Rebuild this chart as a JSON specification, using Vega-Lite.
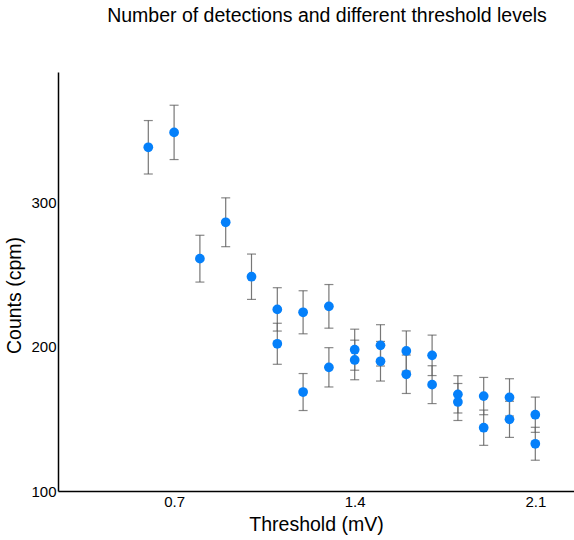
{
  "$schema": "https://vega.github.io/schema/vega-lite/v6.json",
  "autosize": "none",
  "width": 516,
  "height": 419,
  "padding": {"left": 58, "top": 72, "right": 0, "bottom": 49},
  "background": "white",
  "config": {
    "view": {"stroke": null},
    "font": "Liberation Sans"
  },
  "title": {
    "text": "Number of detections and different threshold levels",
    "fontSize": 19.5,
    "fontWeight": "normal",
    "color": "#000000",
    "font": "Liberation Sans",
    "anchor": "middle",
    "dx": 11,
    "offset": 46
  },
  "data": {
    "values": [
      {"threshold": 0.6, "counts": 337.9, "err": 18.5},
      {"threshold": 0.7, "counts": 348.2, "err": 18.8},
      {"threshold": 0.8, "counts": 260.8, "err": 16.2},
      {"threshold": 0.9, "counts": 286.0, "err": 16.9},
      {"threshold": 1.0, "counts": 248.3, "err": 15.7},
      {"threshold": 1.1, "counts": 225.7, "err": 15.0},
      {"threshold": 1.1, "counts": 201.9, "err": 14.2},
      {"threshold": 1.2, "counts": 223.7, "err": 14.9},
      {"threshold": 1.2, "counts": 168.5, "err": 12.8},
      {"threshold": 1.3, "counts": 227.8, "err": 15.1},
      {"threshold": 1.3, "counts": 185.6, "err": 13.6},
      {"threshold": 1.4, "counts": 197.8, "err": 14.2},
      {"threshold": 1.4, "counts": 190.7, "err": 13.7},
      {"threshold": 1.5, "counts": 200.8, "err": 14.3},
      {"threshold": 1.5, "counts": 189.8, "err": 13.7},
      {"threshold": 1.6, "counts": 196.9, "err": 13.9},
      {"threshold": 1.6, "counts": 180.8, "err": 13.3},
      {"threshold": 1.7, "counts": 193.9, "err": 14.0},
      {"threshold": 1.7, "counts": 173.6, "err": 13.1},
      {"threshold": 1.8, "counts": 166.9, "err": 12.9},
      {"threshold": 1.8, "counts": 161.6, "err": 12.8},
      {"threshold": 1.9, "counts": 165.7, "err": 12.9},
      {"threshold": 1.9, "counts": 143.8, "err": 12.2},
      {"threshold": 2.0, "counts": 164.8, "err": 12.9},
      {"threshold": 2.0, "counts": 149.6, "err": 12.5},
      {"threshold": 2.1, "counts": 152.8, "err": 12.2},
      {"threshold": 2.1, "counts": 132.7, "err": 11.4}
    ]
  },
  "transform": [
    {"calculate": "datum.counts - datum.err", "as": "lo"},
    {"calculate": "datum.counts + datum.err", "as": "hi"}
  ],
  "encoding": {
    "x": {
      "field": "threshold",
      "type": "quantitative",
      "scale": {"domain": [0.25, 2.25], "nice": false, "zero": false},
      "axis": {
        "values": [0.7, 1.4, 2.1],
        "format": ".1f",
        "title": "Threshold (mV)",
        "grid": false,
        "ticks": false,
        "domainColor": "#000000",
        "domainWidth": 1.5,
        "labelColor": "#000000",
        "labelFont": "Liberation Sans",
        "labelFontSize": 15,
        "labelPadding": 3,
        "titleFont": "Liberation Sans",
        "titleFontSize": 19.5,
        "titleFontWeight": "normal",
        "titleColor": "#000000",
        "titlePadding": 6
      }
    }
  },
  "layer": [
    {
      "mark": {"type": "rule", "color": "#777777", "strokeWidth": 1.2},
      "encoding": {
        "y": {"field": "lo", "type": "quantitative"},
        "y2": {"field": "hi"}
      }
    },
    {
      "mark": {"type": "tick", "color": "#555555", "size": 9, "thickness": 1.2, "orient": "horizontal"},
      "encoding": {
        "y": {"field": "lo", "type": "quantitative"}
      }
    },
    {
      "mark": {"type": "tick", "color": "#555555", "size": 9, "thickness": 1.2, "orient": "horizontal"},
      "encoding": {
        "y": {"field": "hi", "type": "quantitative"}
      }
    },
    {
      "mark": {"type": "point", "filled": true, "opacity": 1, "color": "#0580fa", "size": 95},
      "encoding": {
        "y": {
          "field": "counts",
          "type": "quantitative",
          "scale": {"domain": [100, 390], "nice": false, "zero": false},
          "axis": {
            "values": [100, 200, 300],
            "title": "Counts (cpm)",
            "grid": false,
            "ticks": false,
            "domainColor": "#000000",
            "domainWidth": 1.5,
            "labelColor": "#000000",
            "labelFont": "Liberation Sans",
            "labelFontSize": 15,
            "labelPadding": 2,
            "titleFont": "Liberation Sans",
            "titleFontSize": 19.5,
            "titleFontWeight": "normal",
            "titleColor": "#000000",
            "titlePadding": 6,
            "titleY": 223
          }
        }
      }
    }
  ],
  "resolve": {"scale": {"y": "shared"}}
}
